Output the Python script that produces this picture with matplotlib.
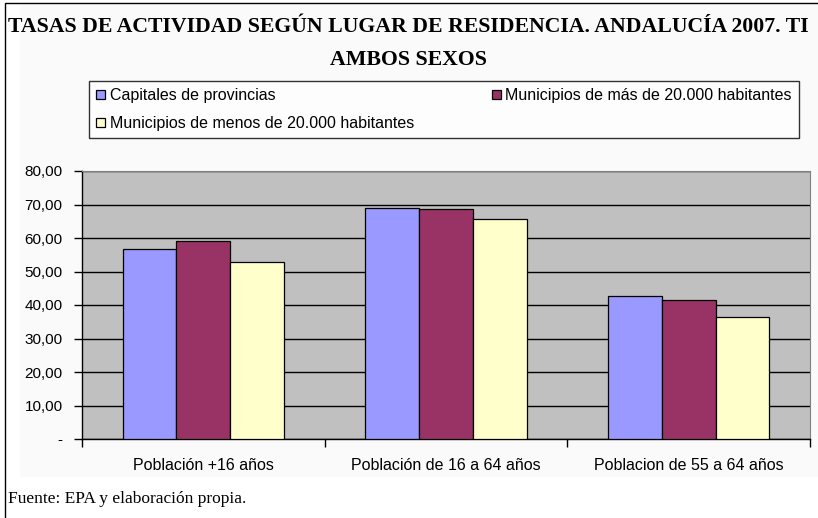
import matplotlib
matplotlib.use("Agg")
import matplotlib.pyplot as plt
from matplotlib.patches import Rectangle
import numpy as np

categories = ["Población +16 años", "Población de 16 a 64 años", "Poblacion de 55 a 64 años"]
series_names = ["Capitales de provincias", "Municipios de más de 20.000 habitantes",
                "Municipios de menos de 20.000 habitantes"]
capitales = [56.7, 68.9, 42.7]
mas_20000 = [59.0, 68.6, 41.5]
menos_20000 = [52.8, 65.6, 36.5]
yticks = [0, 10, 20, 30, 40, 50, 60, 70, 80]
ytick_labels = ["-", "10,00", "20,00", "30,00", "40,00", "50,00", "60,00", "70,00", "80,00"]
title_line1 = "TASAS DE ACTIVIDAD SEGÚN LUGAR DE RESIDENCIA. ANDALUCÍA 2007. TI"
title_line2 = "AMBOS SEXOS"
source = "Fuente: EPA y elaboración propia."

colors = ["#9999FF", "#993366", "#FFFFCC"]

W, H = 818, 518
fig = plt.figure(figsize=(W / 100, H / 100), dpi=100)
fig.patch.set_facecolor("white")

# faint chart-area background
fig.add_artist(Rectangle((20 / W, (H - 477) / H), 1.0, (477 - 5) / H, transform=fig.transFigure,
                         facecolor="#FAFAFA", edgecolor="none", zorder=0))
# outer frame
fig.add_artist(Rectangle((5 / W, -0.01), 1.02, (H - 3) / H + 0.01, transform=fig.transFigure,
                         fill=False, edgecolor="black", linewidth=1.0))

sans = "Liberation Sans"
serif = "Liberation Serif"

ax = fig.add_axes([82 / W, (H - 439) / H, (810 - 82) / W, (439 - 171) / H])
ax.set_facecolor("#C0C0C0")

x = np.arange(len(categories))
w = 0.222
for i, (vals, c, name) in enumerate(zip([capitales, mas_20000, menos_20000], colors, series_names)):
    ax.bar(x + (i - 1) * w, vals, width=w, color=c, edgecolor="black", linewidth=0.9,
           label=name, zorder=3)

ax.set_ylim(0, 80)
ax.set_xlim(-0.5, 2.5)
ax.set_yticks(yticks)
ax.set_yticklabels(ytick_labels, fontfamily=sans, fontsize=11)
ax.yaxis.grid(True, color="black", linewidth=1.0, zorder=1)
ax.set_axisbelow(True)
ax.tick_params(axis="y", length=6, width=1, direction="out", pad=8)

ax.set_xticks([-0.5, 0.5, 1.5, 2.5])
ax.set_xticklabels([])
ax.tick_params(axis="x", length=6, width=1, direction="out")
ax.set_xticks(x, minor=True)
ax.set_xticklabels(categories, minor=True, fontfamily=sans, fontsize=11.5)
ax.tick_params(axis="x", which="minor", length=0, pad=14)

for s in ["top", "right"]:
    ax.spines[s].set_color("#808080")
    ax.spines[s].set_linewidth(0.8)
for s in ["left", "bottom"]:
    ax.spines[s].set_color("black")
    ax.spines[s].set_linewidth(1.0)

# legend
handles, labels = ax.get_legend_handles_labels()
order = [0, 2, 1]
leg = fig.legend([handles[i] for i in order], [labels[i] for i in order],
                 loc="upper left", bbox_to_anchor=(89 / W, 1 - 81 / H, (799 - 89) / W, 0),
                 mode="expand", ncol=2,
                 frameon=True, fancybox=False, edgecolor="black",
                 prop={"family": sans, "size": 11.5}, handlelength=0.55, handleheight=0.55,
                 handletextpad=0.3, columnspacing=0.5, borderpad=0.45, labelspacing=0.8,
                 borderaxespad=0)
leg.get_frame().set_linewidth(1.0)
leg.get_frame().set_facecolor("white")

fig.text(8 / W, 1 - 27 / H, title_line1, fontfamily=serif, fontweight="bold", fontsize=15.7,
         ha="left", va="center")
fig.text(408 / W, 1 - 60 / H, title_line2, fontfamily=serif, fontweight="bold", fontsize=15.7,
         ha="center", va="center")
fig.text(8 / W, 1 - 499 / H, source, fontfamily=serif, fontsize=12.5, ha="left", va="center")

fig.savefig("out.png", dpi=100)
